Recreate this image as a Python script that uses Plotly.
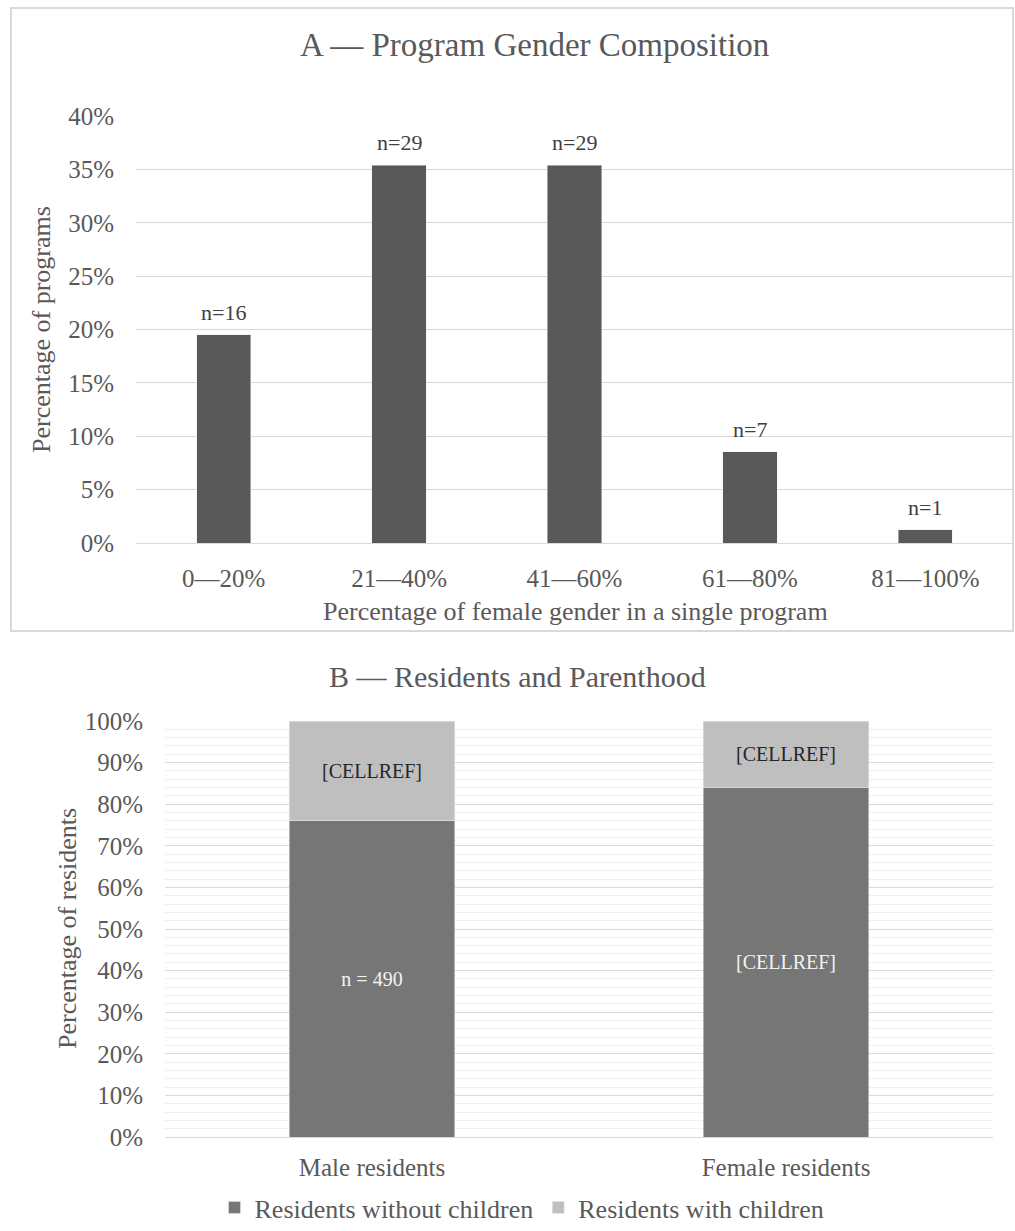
import plotly.graph_objects as go

W, H = 1015, 1231

# Panel A data
bins = ["0\u201420%", "21\u201440%", "41\u201460%", "61\u201480%", "81\u2014100%"]
counts = [16, 29, 29, 7, 1]
total = sum(counts)
shares = [c / total for c in counts]
count_labels = [f"n={c}" for c in counts]

# Panel B data
groups = ["Male residents", "Female residents"]
without_children = [0.76, 0.84]
with_children = [0.24, 0.16]
without_labels = ["n = 490", "[CELLREF]"]
with_labels = ["[CELLREF]", "[CELLREF]"]

FONT = "'Liberation Serif', 'Times New Roman', 'DejaVu Serif', serif"
TXT = "#595959"
GRID = "#d9d9d9"


def px_x(p):
    return p / W


def px_y(p):
    return 1 - p / H


fig = go.Figure()

fig.add_trace(go.Bar(
    x=bins, y=shares, marker_color="#595959", showlegend=False,
    xaxis="x", yaxis="y", hoverinfo="skip", width=0.31,
))

fig.add_trace(go.Bar(
    x=groups, y=without_children, name="Residents without children",
    marker_color="#767676", text=without_labels, textposition="inside",
    insidetextanchor="middle", textangle=0, width=0.40,
    textfont=dict(family=FONT, size=20, color="#f2f2f2"),
    xaxis="x2", yaxis="y2",
))
fig.add_trace(go.Bar(
    x=groups, y=with_children, name="Residents with children",
    marker_color="#bfbfbf", text=with_labels, textposition="inside",
    insidetextanchor="middle", textangle=0, width=0.40,
    textfont=dict(family=FONT, size=20, color="#262626"),
    xaxis="x2", yaxis="y2",
))

annotations = []
for b, s, lab in zip(bins, shares, count_labels):
    annotations.append(dict(
        x=b, y=s, xref="x", yref="y", text=lab, showarrow=False,
        yanchor="bottom", yshift=8,
        font=dict(family=FONT, size=22, color="#404040"),
    ))

annotations += [
    dict(x=px_x(534), y=px_y(45), xref="paper", yref="paper",
         text="A \u2014 Program Gender Composition", showarrow=False,
         xanchor="center", yanchor="middle",
         font=dict(family=FONT, size=33, color=TXT)),
    dict(x=px_x(575), y=px_y(611), xref="paper", yref="paper",
         text="Percentage of female gender in a single program", showarrow=False,
         xanchor="center", yanchor="middle",
         font=dict(family=FONT, size=26, color=TXT)),
    dict(x=px_x(42), y=px_y(330), xref="paper", yref="paper",
         text="Percentage of programs", showarrow=False, textangle=-90,
         xanchor="center", yanchor="middle",
         font=dict(family=FONT, size=26, color=TXT)),
    dict(x=px_x(517), y=px_y(677), xref="paper", yref="paper",
         text="B \u2014 Residents and Parenthood", showarrow=False,
         xanchor="center", yanchor="middle",
         font=dict(family=FONT, size=30, color=TXT)),
    dict(x=px_x(67), y=px_y(929), xref="paper", yref="paper",
         text="Percentage of residents", showarrow=False, textangle=-90,
         xanchor="center", yanchor="middle",
         font=dict(family=FONT, size=26, color=TXT)),
]

fig.update_layout(
    width=W, height=H, autosize=False,
    margin=dict(l=0, r=0, t=0, b=0, autoexpand=False),
    paper_bgcolor="white", plot_bgcolor="white",
    barmode="stack",
    font=dict(family=FONT, size=25, color=TXT),
    xaxis=dict(domain=[px_x(136), px_x(1013)], anchor="y",
               showgrid=False, showline=False, ticks="",
               ticklabelstandoff=18, tickfont=dict(size=25, color=TXT)),
    yaxis=dict(domain=[px_y(543), px_y(116)], anchor="x", range=[0, 0.4],
               dtick=0.05, tickformat=".0%", showgrid=True, gridcolor=GRID,
               gridwidth=1, zeroline=True, zerolinecolor=GRID, zerolinewidth=1,
               showline=False, ticks="", ticklabelstandoff=21,
               tickfont=dict(size=25, color=TXT)),
    xaxis2=dict(domain=[px_x(165), px_x(993)], anchor="y2",
                showgrid=False, showline=False, ticks="",
                ticklabelstandoff=13, tickfont=dict(size=25, color=TXT)),
    yaxis2=dict(domain=[px_y(1137), px_y(721)], anchor="x2", range=[0, 1],
                dtick=0.1, tickformat=".0%", showgrid=True, gridcolor=GRID,
                gridwidth=1, zeroline=True, zerolinecolor=GRID, zerolinewidth=1,
                minor=dict(dtick=0.02, showgrid=True, gridcolor="#efefef", gridwidth=1),
                showline=False, ticks="", ticklabelstandoff=21,
                tickfont=dict(size=25, color=TXT)),
    legend=dict(orientation="h", x=px_x(522), xanchor="center",
                y=0, yanchor="bottom", traceorder="normal",
                font=dict(family=FONT, size=26, color=TXT),
                itemwidth=30, tracegroupgap=0),
    annotations=annotations,
    shapes=[dict(type="rect", xref="paper", yref="paper",
                 x0=px_x(11), x1=px_x(1013), y0=px_y(631), y1=px_y(8),
                 line=dict(color="#d9d9d9", width=2), fillcolor="rgba(0,0,0,0)",
                 layer="below")],
)

fig.write_html("out.html")
